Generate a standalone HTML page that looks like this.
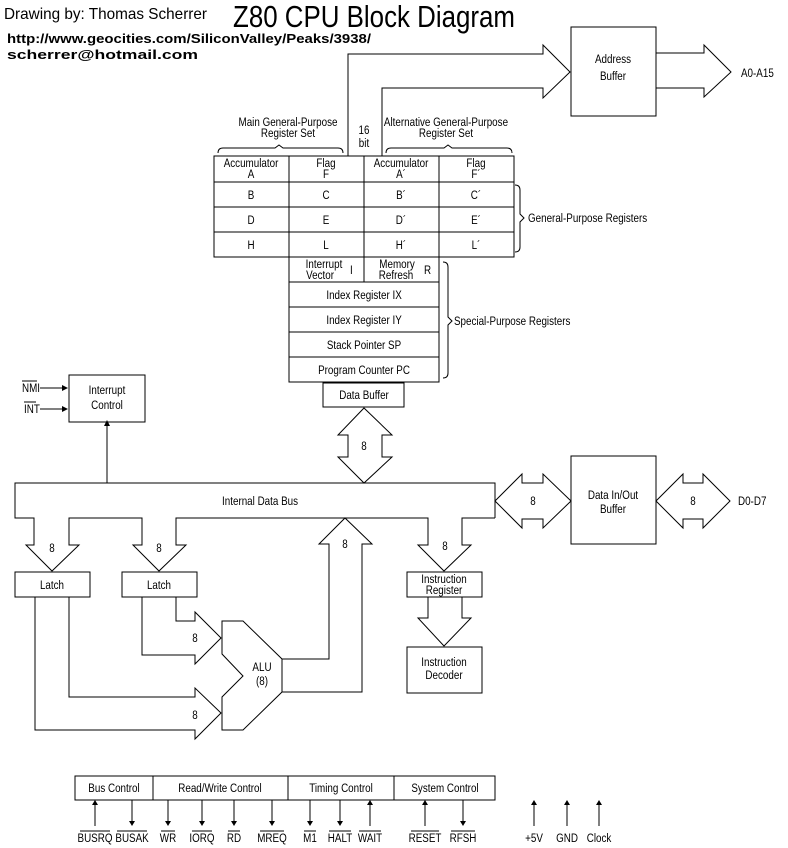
<!DOCTYPE html>
<html><head><meta charset="utf-8"><style>
html,body{margin:0;padding:0;background:#fff;}
svg{display:block;}
text{font-family:"Liberation Sans Narrow","Liberation Sans",sans-serif;font-size:12px;fill:#000;transform-box:fill-box;transform-origin:left center;transform:scaleX(0.82);}
text.c{text-anchor:middle;transform-origin:center;}
text.h{transform:none;}
</style></head><body>
<svg width="788" height="848" viewBox="0 0 788 848" xmlns="http://www.w3.org/2000/svg">
<g fill="none" stroke="#000" stroke-width="1">
<polyline points="348,156 348,54 543,54 543,45 570,72 543,98 543,88 382,88 382,156"/>
<rect x="571" y="27" width="85" height="89"/>
<polyline points="656,53 704,53 704,45 731,72 704,97 704,88 656,88"/>
<line x1="214" y1="156" x2="348" y2="156"/><line x1="382" y1="156" x2="514" y2="156"/>
<rect x="214" y="156" width="300" height="101"/>
<line x1="214" y1="182" x2="514" y2="182"/><line x1="214" y1="207" x2="514" y2="207"/><line x1="214" y1="232" x2="514" y2="232"/>
<line x1="289" y1="156" x2="289" y2="257"/><line x1="364" y1="156" x2="364" y2="282"/><line x1="439" y1="156" x2="439" y2="257"/>
<rect x="289" y="257" width="150" height="125"/>
<line x1="289" y1="282" x2="439" y2="282"/><line x1="289" y1="307" x2="439" y2="307"/><line x1="289" y1="332" x2="439" y2="332"/><line x1="289" y1="357" x2="439" y2="357"/>
<path d="M218,153 Q218,148 223,148 L275,148 L279,145 L283,148 L338,148 Q343,148 343,153"/>
<path d="M386,153 Q386,148 391,148 L444,148 L448,145 L452,148 L507,148 Q512,148 512,153"/>
<path d="M515,185 Q520,185 520,190 L520,214 L524,218 L520,222 L520,247 Q520,252 515,252"/>
<path d="M443,262 Q448,262 448,267 L448,317 L452,321 L448,325 L448,373 Q448,378 443,378"/>
<rect x="323" y="383" width="81" height="24"/>
<polygon points="364,408 392,435 382,435 382,457 392,457 364,483 338,457 348,457 348,435 338,435"/>
<rect x="69" y="375" width="76" height="47"/>
<line x1="107" y1="483" x2="107" y2="424"/>
<line x1="40" y1="388" x2="66" y2="388"/><line x1="40" y1="409" x2="66" y2="409"/>
<polyline points="495,518 495,483 15,483 15,518 34,518 34,545 26,545 52,571 79,545 69,545 69,518 142,518 142,545 133,545 159,571 186,545 176,545 176,518 345,518 428,518 428,545 418,545 444,571 471,545 462,545 462,518 495,518"/>
<polygon points="495,501 522,474 522,483 543,483 543,474 571,501 543,528 543,519 522,519 522,528"/>
<rect x="571" y="456" width="85" height="88"/>
<polygon points="656,501 683,474 683,483 703,483 703,474 730,501 703,528 703,519 683,519 683,528"/>
<rect x="15" y="572" width="75" height="25"/>
<rect x="122" y="572" width="75" height="25"/>
<rect x="407" y="572" width="75" height="25"/>
<polygon points="428,597 462,597 462,618 471,618 444,646 418,618 428,618"/>
<rect x="407" y="647" width="75" height="46"/>
<polyline points="176,597 176,621 195,621 195,612 221,638 195,664 195,655 142,655 142,597"/>
<polyline points="69,597 69,697 195,697 195,688 221,713 195,739 195,730 35,730 35,597"/>
<polygon points="222,621 243,621 282,659 282,692 243,730 222,730 222,697 243,676 222,654"/>
<polyline points="282,659 329,659 329,544 319,544 345,518 372,544 362,544 362,692 282,692"/>
<rect x="75" y="776" width="420" height="24"/>
<line x1="153" y1="776" x2="153" y2="800"/><line x1="288" y1="776" x2="288" y2="800"/><line x1="394" y1="776" x2="394" y2="800"/>
<line x1="95" y1="826" x2="95" y2="802"/><line x1="132" y1="800" x2="132" y2="824"/>
<line x1="168" y1="800" x2="168" y2="824"/><line x1="202" y1="800" x2="202" y2="824"/><line x1="234" y1="800" x2="234" y2="824"/><line x1="272" y1="800" x2="272" y2="824"/>
<line x1="310" y1="800" x2="310" y2="824"/><line x1="340" y1="800" x2="340" y2="824"/><line x1="370" y1="826" x2="370" y2="802"/>
<line x1="425" y1="826" x2="425" y2="802"/><line x1="463" y1="800" x2="463" y2="824"/>
<line x1="534" y1="826" x2="534" y2="802"/><line x1="567" y1="826" x2="567" y2="802"/><line x1="599" y1="826" x2="599" y2="802"/>
</g>
<g fill="#000">
<polygon points="107,420 104,426 110,426"/>
<polygon points="68,388 62,385 62,391"/><polygon points="68,409 62,406 62,412"/>
<polygon points="95,800 92,805 98,805"/><polygon points="370,800 367,805 373,805"/><polygon points="425,800 422,805 428,805"/>
<polygon points="534,800 531,805 537,805"/><polygon points="567,800 564,805 570,805"/><polygon points="599,800 596,805 602,805"/>
<polygon points="132,826 129,821 135,821"/><polygon points="168,826 165,821 171,821"/><polygon points="202,826 199,821 205,821"/><polygon points="234,826 231,821 237,821"/><polygon points="272,826 269,821 275,821"/>
<polygon points="310,826 307,821 313,821"/><polygon points="340,826 337,821 343,821"/><polygon points="463,826 460,821 466,821"/>
</g>
<text class="h" x="4" y="19" style="font-family:'Liberation Sans',sans-serif;font-size:16px" textLength="203" lengthAdjust="spacingAndGlyphs">Drawing by: Thomas Scherrer</text>
<text class="h" x="233" y="27" style="font-family:'Liberation Sans',sans-serif;font-size:31px" textLength="282" lengthAdjust="spacingAndGlyphs">Z80 CPU Block Diagram</text>
<text class="h" x="7" y="43" style="font-family:'Liberation Sans',sans-serif;font-size:13px;font-weight:bold" textLength="364" lengthAdjust="spacingAndGlyphs">http://www.geocities.com/SiliconValley/Peaks/3938/</text>
<text class="h" x="7" y="59" style="font-family:'Liberation Sans',sans-serif;font-size:13px;font-weight:bold" textLength="191" lengthAdjust="spacingAndGlyphs">scherrer@hotmail.com</text>
<text class="c" x="613" y="63">Address</text><text class="c" x="613" y="80">Buffer</text>
<text x="741" y="77">A0-A15</text>
<text class="c" x="288" y="126">Main General-Purpose</text><text class="c" x="288" y="137">Register Set</text>
<text class="c" x="364" y="134">16</text><text class="c" x="364" y="147">bit</text>
<text class="c" x="446" y="126">Alternative General-Purpose</text><text class="c" x="446" y="137">Register Set</text>
<text class="c" x="251" y="167">Accumulator</text><text class="c" x="251" y="178">A</text>
<text class="c" x="326" y="167">Flag</text><text class="c" x="326" y="178">F</text>
<text class="c" x="401" y="167">Accumulator</text><text class="c" x="401" y="178">A´</text>
<text class="c" x="476" y="167">Flag</text><text class="c" x="476" y="178">F´</text>
<text class="c" x="251" y="199">B</text><text class="c" x="326" y="199">C</text><text class="c" x="401" y="199">B´</text><text class="c" x="476" y="199">C´</text>
<text class="c" x="251" y="224">D</text><text class="c" x="326" y="224">E</text><text class="c" x="401" y="224">D´</text><text class="c" x="476" y="224">E´</text>
<text class="c" x="251" y="249">H</text><text class="c" x="326" y="249">L</text><text class="c" x="401" y="249">H´</text><text class="c" x="476" y="249">L´</text>
<text class="c" x="324" y="268">Interrupt</text><text class="c" x="320" y="279">Vector</text><text x="350" y="274">I</text>
<text class="c" x="397" y="268">Memory</text><text class="c" x="396" y="279">Refresh</text><text x="424" y="274">R</text>
<text class="c" x="364" y="299">Index Register IX</text>
<text class="c" x="364" y="324">Index Register IY</text>
<text class="c" x="364" y="349">Stack Pointer SP</text>
<text class="c" x="364" y="374">Program Counter PC</text>
<text x="528" y="222">General-Purpose Registers</text>
<text x="454" y="325">Special-Purpose Registers</text>
<text class="c" x="364" y="399">Data Buffer</text>
<text class="c" x="364" y="450">8</text>
<text class="c" x="107" y="394">Interrupt</text><text class="c" x="107" y="409">Control</text>
<text x="22" y="392">NMI</text><line x1="22" y1="381" x2="37" y2="381" stroke="#000"/>
<text x="24" y="413">INT</text><line x1="24" y1="402" x2="36" y2="402" stroke="#000"/>
<text class="c" x="260" y="505">Internal Data Bus</text>
<text class="c" x="533" y="505">8</text>
<text class="c" x="613" y="499">Data In/Out</text><text class="c" x="613" y="513">Buffer</text>
<text class="c" x="693" y="505">8</text><text x="738" y="505">D0-D7</text>
<text class="c" x="52" y="552">8</text><text class="c" x="159" y="552">8</text><text class="c" x="345" y="548">8</text><text class="c" x="445" y="550">8</text>
<text class="c" x="52" y="589">Latch</text><text class="c" x="159" y="589">Latch</text>
<text class="c" x="444" y="583">Instruction</text><text class="c" x="444" y="594">Register</text>
<text class="c" x="444" y="666">Instruction</text><text class="c" x="444" y="679">Decoder</text>
<text class="c" x="195" y="642">8</text><text class="c" x="195" y="719">8</text>
<text class="c" x="262" y="671">ALU</text><text class="c" x="262" y="685">(8)</text>
<text class="c" x="114" y="792">Bus Control</text>
<text class="c" x="220" y="792">Read/Write Control</text>
<text class="c" x="341" y="792">Timing Control</text>
<text class="c" x="445" y="792">System Control</text>
<text class="c" x="95" y="842">BUSRQ</text><text class="c" x="132" y="842">BUSAK</text>
<text class="c" x="168" y="842">WR</text><text class="c" x="202" y="842">IORQ</text><text class="c" x="234" y="842">RD</text><text class="c" x="272" y="842">MREQ</text>
<text class="c" x="310" y="842">M1</text><text class="c" x="340" y="842">HALT</text><text class="c" x="370" y="842">WAIT</text>
<text class="c" x="425" y="842">RESET</text><text class="c" x="463" y="842">RFSH</text>
<text class="c" x="534" y="842">+5V</text><text class="c" x="567" y="842">GND</text><text class="c" x="599" y="842">Clock</text>
<g stroke="#000">
<line x1="80" y1="831" x2="110" y2="831"/><line x1="117" y1="831" x2="147" y2="831"/>
<line x1="161" y1="831" x2="175" y2="831"/><line x1="192" y1="831" x2="212" y2="831"/><line x1="228" y1="831" x2="240" y2="831"/><line x1="260" y1="831" x2="284" y2="831"/>
<line x1="304" y1="831" x2="316" y2="831"/><line x1="329" y1="831" x2="351" y2="831"/><line x1="359" y1="831" x2="381" y2="831"/>
<line x1="411" y1="831" x2="439" y2="831"/><line x1="451" y1="831" x2="475" y2="831"/>
</g>
</svg>
</body></html>
